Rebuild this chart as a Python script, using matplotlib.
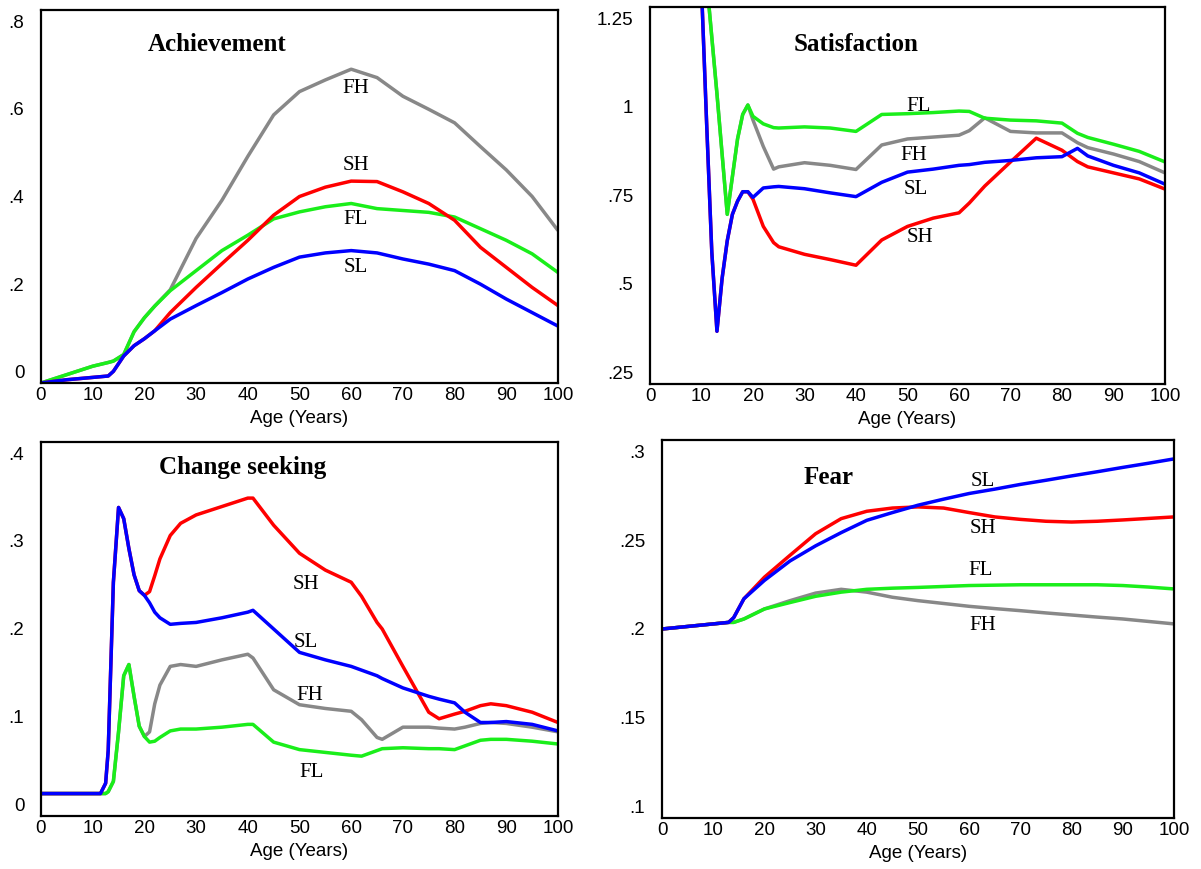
import numpy as np
import matplotlib
matplotlib.use("Agg")
import matplotlib.pyplot as plt

plt.rcParams['font.family'] = ['Liberation Sans', 'DejaVu Sans']

# ---------------- data ----------------
# Achievement
ages_ach = [0, 5, 10, 13, 14, 16, 18, 20, 22, 25, 30, 35, 40, 45, 50, 55, 60,
            65, 70, 75, 80, 85, 90, 95, 100]
ach_fh = [0, 0.018, 0.036, 0.044, 0.047, 0.061, 0.11, 0.14, 0.165, 0.2, 0.31,
          0.392, 0.486, 0.575, 0.625, 0.65, 0.673, 0.655, 0.615, 0.587, 0.558,
          0.507, 0.457, 0.4, 0.327]
ach_fl = [0, 0.018, 0.036, 0.044, 0.047, 0.061, 0.11, 0.14, 0.165, 0.198, 0.241,
          0.284, 0.317, 0.352, 0.367, 0.378, 0.385, 0.374, 0.37, 0.366, 0.356,
          0.331, 0.306, 0.277, 0.237]
ach_sh = [0, 0.007, 0.012, 0.015, 0.025, 0.058, 0.08, 0.095, 0.112, 0.151, 0.205,
          0.256, 0.306, 0.36, 0.4, 0.42, 0.433, 0.432, 0.41, 0.385, 0.349,
          0.291, 0.248, 0.205, 0.166]
ach_sl = [0, 0.007, 0.012, 0.015, 0.025, 0.058, 0.08, 0.095, 0.112, 0.137, 0.166,
          0.194, 0.223, 0.248, 0.27, 0.279, 0.284, 0.279, 0.266, 0.255, 0.241,
          0.212, 0.18, 0.151, 0.122]

# Satisfaction
ages_sat = [10, 11, 12, 13, 14, 15, 16, 17, 18, 19, 20, 22, 24, 25, 30, 35, 40,
            45, 50, 55, 60, 62, 65, 70, 75, 80, 83, 85, 90, 95, 100]
sat_fh = [np.nan, 1.32, 1.17, 1.02, 0.86, 0.70, 0.80, 0.90, 0.965, 0.99, 0.95,
          0.88, 0.82, 0.826, 0.837, 0.83, 0.819, 0.884, 0.9, 0.905, 0.91, 0.922,
          0.956, 0.92, 0.916, 0.916, 0.89, 0.877, 0.86, 0.84, 0.81]
sat_fl = [np.nan, 1.32, 1.17, 1.02, 0.86, 0.70, 0.80, 0.90, 0.965, 0.99, 0.96,
          0.94, 0.93, 0.929, 0.932, 0.929, 0.92, 0.965, 0.967, 0.97, 0.974, 0.973,
          0.955, 0.95, 0.948, 0.942, 0.915, 0.904, 0.886, 0.867, 0.839]
sat_sh = [1.3, 0.94, 0.6, 0.39, 0.53, 0.63, 0.70, 0.735, 0.76, 0.76, 0.74,
          0.668, 0.625, 0.614, 0.594, 0.58, 0.565, 0.632, 0.668, 0.69, 0.704, 0.73,
          0.775, 0.839, 0.902, 0.87, 0.84, 0.826, 0.81, 0.794, 0.767]
sat_sl = [1.3, 0.94, 0.6, 0.39, 0.53, 0.63, 0.70, 0.735, 0.76, 0.76, 0.745,
          0.77, 0.773, 0.774, 0.768, 0.757, 0.747, 0.785, 0.812, 0.82, 0.83, 0.832,
          0.838, 0.843, 0.85, 0.853, 0.875, 0.855, 0.83, 0.81, 0.78]

# Change seeking
ages_chg = [0, 11.5, 12.5, 13, 14, 15, 16, 17, 18, 19, 20, 21, 22, 23, 25, 27, 30,
            35, 40, 41, 45, 50, 55, 60, 62, 65, 66, 70, 75, 77, 80, 82, 85, 87,
            90, 95, 100]
chg_fh = [0.024, 0.024, 0.024, 0.026, 0.037, 0.09, 0.15, 0.162, 0.128, 0.096,
          0.085, 0.09, 0.12, 0.14, 0.16, 0.162, 0.16, 0.167, 0.173, 0.169, 0.135,
          0.119, 0.115, 0.112, 0.103, 0.084, 0.082, 0.095, 0.095, 0.094, 0.093,
          0.095, 0.099, 0.1, 0.099, 0.095, 0.09]
chg_fl = [0.024, 0.024, 0.024, 0.026, 0.037, 0.09, 0.15, 0.162, 0.128, 0.096,
          0.085, 0.079, 0.08, 0.084, 0.091, 0.093, 0.093, 0.095, 0.098, 0.098,
          0.079, 0.071, 0.068, 0.065, 0.064, 0.07, 0.072, 0.073, 0.072, 0.072,
          0.071, 0.075, 0.081, 0.082, 0.082, 0.08, 0.077]
chg_sh = [0.024, 0.024, 0.035, 0.07, 0.25, 0.33, 0.318, 0.286, 0.258, 0.241,
          0.236, 0.24, 0.257, 0.275, 0.3, 0.313, 0.322, 0.331, 0.34, 0.34, 0.311,
          0.281, 0.263, 0.25, 0.235, 0.207, 0.2, 0.16, 0.111, 0.104, 0.109, 0.112,
          0.118, 0.12, 0.118, 0.111, 0.1]
chg_sl = [0.024, 0.024, 0.035, 0.07, 0.25, 0.33, 0.318, 0.286, 0.258, 0.241,
          0.236, 0.228, 0.218, 0.212, 0.205, 0.206, 0.207, 0.212, 0.218, 0.22,
          0.2, 0.175, 0.167, 0.16, 0.156, 0.15, 0.147, 0.137, 0.128, 0.125,
          0.121, 0.111, 0.1, 0.1, 0.101, 0.098, 0.091]

# Fear
ages_fear = [0, 13, 14, 16, 20, 25, 30, 35, 40, 45, 50, 55, 60, 65, 70, 75, 80,
             85, 90, 95, 100]
fear_fh = [0.2, 0.2035, 0.2035, 0.2053, 0.2106, 0.215, 0.219, 0.221, 0.2195,
           0.2168, 0.215, 0.2135, 0.212, 0.2108, 0.2097, 0.2085, 0.2074, 0.2063,
           0.2053, 0.204, 0.2027]
fear_fl = [0.2, 0.2035, 0.2035, 0.2053, 0.2106, 0.214, 0.2173, 0.2195, 0.221,
           0.2216, 0.222, 0.2225, 0.223, 0.2232, 0.2234, 0.2234, 0.2234, 0.2234,
           0.223, 0.2222, 0.2212]
fear_sh = [0.2, 0.2035, 0.206, 0.216, 0.2274, 0.239, 0.2504, 0.2584, 0.2623,
           0.264, 0.2646, 0.264, 0.2616, 0.2593, 0.258, 0.257, 0.2566, 0.257,
           0.2577, 0.2585, 0.2593]
fear_sl = [0.2, 0.2035, 0.206, 0.216, 0.2257, 0.236, 0.244, 0.251, 0.2575,
           0.2616, 0.2655, 0.2687, 0.2717, 0.274, 0.2765, 0.2787, 0.281, 0.2832,
           0.2855, 0.2877, 0.29]

series_names = ['FH', 'FL', 'SH', 'SL']
colors = {'FH': '#888888', 'FL': '#1aee1a', 'SH': '#ff0000', 'SL': '#0000ff'}

# ---------------- figure ----------------
W, H = 1201, 869
fig = plt.figure(figsize=(W / 100, H / 100), dpi=100)


def make_axes(left, right, top, bottom):
    return fig.add_axes([left / W, 1 - bottom / H, (right - left) / W, (bottom - top) / H])


def draw_panel(ax, ages, data, ylim, yticks, ylabels, title, title_pos, label_pos):
    for name in series_names:
        ax.plot(ages, data[name], color=colors[name], lw=2.5, solid_capstyle='butt')
    ax.set_xlim(0, 100)
    ax.set_ylim(*ylim)
    ax.set_xticks(np.arange(0, 101, 10))
    ax.set_xticks(np.arange(0, 101, 5), minor=True)
    ax.set_yticks(yticks)
    ax.set_yticklabels([])
    ax.tick_params(which='both', direction='in', color='white', length=3, width=1,
                   top=True, right=True)
    ax.tick_params(axis='x', labelsize=13.5, pad=3)
    for s in ax.spines.values():
        s.set_linewidth(1.6)
    ax.set_xlabel('Age (Years)', fontsize=13.5, labelpad=4)
    # y labels are spread inside the axis range, as in the original
    n = len(ylabels)
    for i, lab in enumerate(ylabels):
        fy = 0.025 + (0.965 - 0.025) * i / (n - 1)
        ax.annotate(lab, xy=(0, fy), xycoords='axes fraction', xytext=(-12, 0),
                    textcoords='offset points', ha='right', va='center', fontsize=13.5)
    ax.text(title_pos[0], title_pos[1], title, transform=ax.transAxes, ha='center',
            va='center', fontsize=18, fontweight='bold', family='Liberation Serif')
    for name, (x, y) in label_pos.items():
        ax.text(x, y, name, ha='center', va='center', fontsize=15,
                family='Liberation Serif')


ax1 = make_axes(41, 558, 10, 383)
draw_panel(ax1, ages_ach, {'FH': ach_fh, 'FL': ach_fl, 'SH': ach_sh, 'SL': ach_sl},
           (0, 0.8), [0, 0.2, 0.4, 0.6, 0.8], ['0', '.2', '.4', '.6', '.8'],
           'Achievement', (0.34, 0.907),
           {'FH': (60.9, 0.631), 'SH': (60.9, 0.466), 'FL': (60.9, 0.35), 'SL': (60.9, 0.248)})

ax2 = make_axes(650, 1165, 7, 384)
draw_panel(ax2, ages_sat, {'FH': sat_fh, 'FL': sat_fl, 'SH': sat_sh, 'SL': sat_sl},
           (0.25, 1.25), [0.25, 0.5, 0.75, 1.0, 1.25], ['.25', '.5', '.75', '1', '1.25'],
           'Satisfaction', (0.401, 0.90),
           {'FL': (52.2, 0.986), 'FH': (51.3, 0.856), 'SL': (51.6, 0.767), 'SH': (52.4, 0.639)})

ax3 = make_axes(41, 558, 442, 816)
draw_panel(ax3, ages_chg, {'FH': chg_fh, 'FL': chg_fl, 'SH': chg_sh, 'SL': chg_sl},
           (0, 0.4), [0, 0.1, 0.2, 0.3, 0.4], ['0', '.1', '.2', '.3', '.4'],
           'Change seeking', (0.39, 0.932),
           {'SH': (51.3, 0.248), 'SL': (51.2, 0.186), 'FH': (52.0, 0.129), 'FL': (52.3, 0.047)})

ax4 = make_axes(662, 1174, 440, 818)
draw_panel(ax4, ages_fear, {'FH': fear_fh, 'FL': fear_fl, 'SH': fear_sh, 'SL': fear_sl},
           (0.1, 0.3), [0.1, 0.15, 0.2, 0.25, 0.3], ['.1', '.15', '.2', '.25', '.3'],
           'Fear', (0.326, 0.90),
           {'SL': (62.7, 0.278), 'SH': (62.7, 0.2534), 'FL': (62.3, 0.231), 'FH': (62.7, 0.202)})

fig.savefig('out.png', dpi=100)
